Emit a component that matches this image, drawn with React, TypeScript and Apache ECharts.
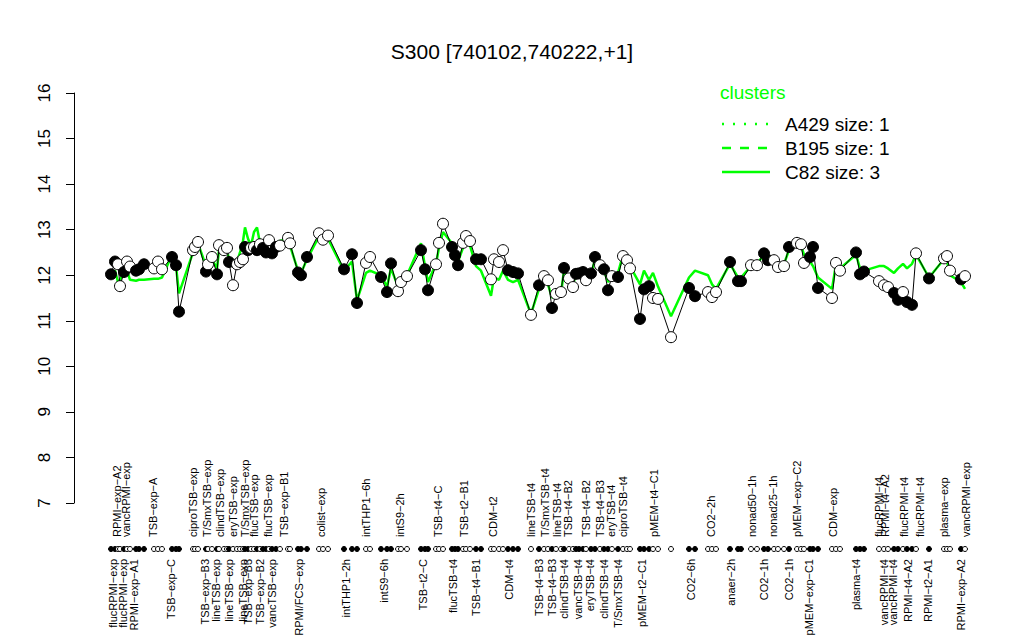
import React, { useEffect, useRef } from "react";
import * as echarts from "echarts";

// sample positions along the condition axis
const pos = [
  7.4, 8.2, 8.8, 9.2, 10, 10.6, 11.2, 12.4, 13, 14,
  16, 16.8, 17.6,
  19.6, 20.4, 21,
  23.8, 24.2, 24.8,
  26.4, 26.8, 27.6, 28.6, 29, 30, 30.6, 31, 31.8, 32.6, 33.2, 33.8, 34.2, 34.8, 35.4, 36, 36.6, 37.2, 37.8, 38.4, 39, 39.6, 40.4, 41.2, 42.8, 43.2,
  44.8, 45.4, 46.6,
  49, 49.8, 50.8,
  54, 55.6, 56.6,
  58.4, 59.2,
  61.4, 62.6, 63.4,
  64.8, 65.4, 66.6,
  69.4, 70.2, 70.8,
  72.4, 73, 73.8,
  75.6, 76.2, 76.8,
  77.8, 78.4, 79.2,
  80.4, 81.4,
  83.4, 84, 85, 85.8,
  86.8, 87.8, 88.8,
  91.4,
  93, 94, 94.8, 95.6, 96.4, 97.4, 98, 99, 99.8, 100.4, 101, 101.8, 102.4, 103.4, 104.2, 105.2, 106, 106.8, 107.6, 108.8, 109.8, 110.6, 111.2,
  113.2, 114, 115,
  115.8, 116.8,
  119.4,
  123, 124.2,
  126.8, 127.6, 128.4,
  131.2, 132.8, 133.4,
  135.4, 136.6,
  138, 138.8,
  140, 140.8, 142,
  143,
  144.6, 145.4, 146,
  147.2, 147.8, 148.8,
  151.6, 152.4, 153.2,
  156.4, 157.2, 158,
  161, 162, 162.8, 164, 164.8, 165.8, 166.6, 167.6, 168.4,
  171,
  174, 174.6, 175.2,
  177.4, 178.2,
];

// expression of S300 for each sample
const values = [
  12.02, 12.3, 12.24, 11.76, 12.07, 12.3, 12.19, 12.1, 12.13, 12.24,
  12.15, 12.3, 12.13,
  12.4, 12.22, 11.2,
  12.55, 12.62, 12.73,
  12.08, 12.24, 12.4, 12.02, 12.66, 12.55, 12.6, 12.29, 11.78, 12.24, 12.29, 12.35, 12.62, 12.55, 12.6, 12.62, 12.55, 12.68, 12.6, 12.5, 12.77, 12.48, 12.62, 12.65, 12.82, 12.7,
  12.06, 12.0, 12.4,
  12.92, 12.78, 12.87,
  12.13, 12.46, 11.39,
  12.27, 12.4,
  11.96, 11.63, 12.26,
  11.65, 11.85, 11.98,
  12.55, 12.13, 11.67,
  12.24, 12.71, 13.13,
  12.62, 12.44, 12.22,
  12.71, 12.86, 12.75,
  12.35, 12.35,
  11.91, 12.35, 12.29, 12.55,
  12.11, 12.07, 12.04,
  11.13,
  11.78, 11.98, 11.89, 11.28, 11.59, 11.63, 12.16, 11.93, 11.74, 12.03, 12.04, 12.07, 11.89, 12.04, 12.4, 12.22, 12.13, 11.67, 11.98, 11.96, 12.42, 12.33, 12.15,
  11.04, 11.69, 11.76,
  11.5, 11.48,
  10.64,
  11.72, 11.54,
  11.63, 11.52, 11.63,
  12.29, 11.87, 11.87,
  12.22, 12.22,
  12.48, 12.33,
  12.33, 12.18, 12.2,
  12.62,
  12.71, 12.68, 12.27,
  12.4, 12.62, 11.72,
  11.5, 12.27, 12.1,
  12.5, 12.02, 12.08,
  11.87, 11.78, 11.74, 11.61, 11.46, 11.63, 11.41, 11.35, 12.48,
  11.93,
  12.37, 12.42, 12.1,
  11.91, 11.98,
];

// C82 cluster profile
const cluster = [
  12.0, 12.1, 11.85, 11.9, 12.05, 12.1, 11.9, 11.88, 11.9, 11.9,
  11.92, 11.92, 11.95,
  12.45, 12.2, 11.6,
  12.5, 12.6, 12.7,
  12.2, 12.25, 12.35, 12.15, 12.55, 12.5, 12.55, 12.35, 12.2, 12.3, 12.5, 12.75, 13.05, 12.8, 12.65, 12.95, 13.05, 12.7, 12.65, 12.6, 12.85, 12.6, 12.7, 12.75, 12.8, 12.65,
  12.1, 12.05, 12.35,
  12.85, 12.9, 12.8,
  12.1, 12.3, 11.45,
  12.05, 12.1,
  12.0, 11.75, 12.15,
  11.75, 11.9, 12.0,
  12.7, 12.2, 11.85,
  12.25, 12.6, 12.95,
  12.7, 12.5, 12.3,
  12.6, 12.7, 12.65,
  12.2, 12.1,
  11.55, 11.95, 11.9, 12.1,
  11.9, 11.85, 11.9,
  11.15,
  11.7, 11.85, 11.8, 11.5, 11.6, 11.6, 12.1, 11.9, 11.8, 12.0, 12.05, 12.0, 11.9, 12.0, 12.35, 12.2, 12.1, 11.85, 12.0, 12.05, 12.45, 12.4, 12.2,
  11.8, 12.1, 11.9,
  12.05, 11.75,
  11.1,
  11.95, 12.1,
  12.0, 11.8, 11.7,
  12.25, 11.95, 11.95,
  12.2, 12.25,
  12.45, 12.3,
  12.3, 12.2, 12.25,
  12.55,
  12.7, 12.65, 12.45,
  12.3, 12.2, 11.95,
  11.7, 12.25, 12.15,
  12.45, 12.15, 12.1,
  12.2, 12.2, 12.15, 12.05, 12.15, 12.25, 12.15, 12.25, 12.45,
  11.95,
  12.35, 12.3, 12.0,
  11.85, 11.7,
];

// 1 = filled marker, 0 = open marker
const filled = [
  1, 1, 0, 0, 1, 0, 0, 1, 1, 1,
  0, 0, 0,
  1, 1, 1,
  0, 0, 0,
  1, 0, 0, 1, 0, 0, 0, 1, 0, 0, 0, 0, 1, 1, 0, 0, 1, 0, 1, 1, 0, 1, 1, 0, 0, 0,
  1, 1, 1,
  0, 0, 0,
  1, 1, 1,
  0, 0,
  1, 1, 1,
  0, 0, 0,
  1, 1, 1,
  0, 0, 0,
  1, 1, 1,
  0, 0, 0,
  1, 1,
  0, 0, 0, 0,
  1, 1, 1,
  0,
  1, 0, 0, 1, 0, 0, 1, 0, 0, 1, 1, 1, 0, 1, 1, 0, 1, 1, 0, 1, 0, 0, 0,
  1, 1, 1,
  0, 0,
  0,
  1, 1,
  0, 0, 0,
  1, 1, 1,
  0, 0,
  1, 1,
  0, 0, 0,
  1,
  0, 0, 0,
  1, 1, 1,
  0, 0, 0,
  1, 1, 1,
  0, 0, 0, 1, 1, 0, 1, 1, 0,
  1,
  0, 0, 0,
  1, 0,
];

const yTicks = [7, 8, 9, 10, 11, 12, 13, 14, 15, 16];

const topLabels = [
  "RPMI\u2212exp\u2212A2", "vancRPMI\u2212exp", "TSB\u2212exp\u2212A", "ciproTSB\u2212exp", "T/SmxTSB\u2212exp",
  "clindTSB\u2212exp", "eryTSB\u2212exp", "T/SmxTSB\u2212exp", "flucTSB\u2212exp", "flucTSB\u2212exp",
  "TSB\u2212exp\u2212B1", "colist\u2212exp", "intTHP1\u22126h", "intS9\u22122h", "TSB\u2212t4\u2212C",
  "TSB\u2212t2\u2212B1", "CDM\u2212t2", "lineTSB\u2212t4", "T/SmxTSB\u2212t4", "lineTSB\u2212t4",
  "TSB\u2212t4\u2212B2", "TSB\u2212t4\u2212B2", "TSB\u2212t4\u2212B3", "eryTSB\u2212t4", "ciproTSB\u2212t4",
  "pMEM\u2212t4\u2212C1", "CO2\u22122h", "nonad50\u22121h", "nonad25\u22121h", "pMEM\u2212exp\u2212C2",
  "CDM\u2212exp", "flucRPMI\u2212t4", "RPMI\u2212t4\u2212A2", "flucRPMI\u2212t4", "flucRPMI\u2212t4",
  "plasma\u2212exp", "vancRPMI\u2212exp",
];
const topPos = [
  8.6, 10.4, 15.8, 23.8, 26.6,
  29.2, 31.8, 34.2, 36, 38.8,
  42, 49.4, 58.4, 65.2, 72.8,
  78, 83.8, 91.4, 94.2, 96.6,
  98.8, 102.4, 105.2, 107.4, 109.8,
  116, 127.4, 135.6, 139.8, 144.6,
  151.8, 161, 162.2, 166, 169.2,
  174, 178.4,
];

const bottomLabels = [
  "flucRPMI\u2212exp", "flucRPMI\u2212exp", "RPMI\u2212exp\u2212A1", "TSB\u2212exp\u2212C", "TSB\u2212exp\u2212B3",
  "lineTSB\u2212exp", "lineTSB\u2212exp", "lineTSB\u2212exp", "TSB\u2212exp\u2212B3", "TSB\u2212exp\u2212B2",
  "vancTSB\u2212exp", "RPMI/FCS\u2212exp", "intTHP1\u22122h", "intS9\u22126h", "TSB\u2212t2\u2212C",
  "flucTSB\u2212t4", "TSB\u2212t4\u2212B1", "CDM\u2212t4", "TSB\u2212t4\u2212B3", "TSB\u2212t4\u2212B3",
  "clindTSB\u2212t4", "vancTSB\u2212t4", "eryTSB\u2212t4", "clindTSB\u2212t4", "T/SmxTSB\u2212t4",
  "pMEM\u2212t2\u2212C1", "CO2\u22126h", "anaer\u22122h", "CO2\u22121h", "CO2\u22121h",
  "pMEM\u2212exp\u2212C1", "plasma\u2212t4", "vancRPMI\u2212t4", "vancRPMI\u2212t4", "RPMI\u2212t4\u2212A2",
  "RPMI\u2212t2\u2212A1", "RPMI\u2212exp\u2212A2",
];
const bottomPos = [
  7.8, 9.8, 12, 19.4, 26.2,
  28.4, 31, 33.8, 34.8, 37.2,
  39.6, 45, 54.4, 62, 69.8,
  75.8, 80.4, 87, 93, 95.6,
  98, 100.8, 103.2, 106, 108.8,
  113.6, 123.4, 131.4, 138, 143,
  147, 156.4, 162, 163.8, 166.8,
  170.8, 177.4,
];

const legendTitle = "clusters";
const legendNames = ["A429 size: 1", "B195 size: 1", "C82 size: 3"];
const titleText = "S300 [740102,740222,+1]";

const FONT = "'Liberation Sans', Arial, Helvetica, sans-serif";
const GREEN = "#00ff00";

export default function App() {
  const ref = useRef<HTMLDivElement>(null);

  useEffect(() => {
    if (!ref.current) return;
    const chart = echarts.init(ref.current, null, { renderer: "svg" });

    const markerStyle = (i: number) => ({
      color: filled[i] ? "#000" : "#fff",
      borderColor: "#000",
      borderWidth: 1,
      opacity: 1,
    });

    const option: any = {
      animation: false,
      backgroundColor: "#fff",
      title: {
        text: titleText,
        left: "center",
        top: 36,
        textStyle: { fontSize: 21, fontWeight: "normal", fontFamily: FONT, color: "#000" },
      },
      grid: [
        { left: 74, top: 93, width: 950, height: 410 },
        { left: 74, top: 541, width: 950, height: 16 },
      ],
      xAxis: [
        { type: "value", gridIndex: 0, min: 0, max: 190, show: false },
        { type: "value", gridIndex: 1, min: 0, max: 190, show: false },
      ],
      yAxis: [
        {
          type: "value",
          gridIndex: 0,
          min: 7,
          max: 16,
          interval: 1,
          axisLine: { show: true, lineStyle: { color: "#000", width: 1 } },
          axisTick: { show: true, length: 8, lineStyle: { color: "#000", width: 1 } },
          splitLine: { show: false },
          axisLabel: { show: false },
        },
        { type: "value", gridIndex: 1, min: -1, max: 1, show: false },
      ],
      series: [
        {
          type: "line",
          xAxisIndex: 0,
          yAxisIndex: 0,
          data: pos.map((p, i) => [p, cluster[i]]),
          symbol: "none",
          lineStyle: { color: GREEN, width: 2.5 },
          z: 1,
        },
        {
          type: "line",
          xAxisIndex: 0,
          yAxisIndex: 0,
          data: pos.map((p, i) => [p, values[i]]),
          symbol: "none",
          lineStyle: { color: "#000", width: 1 },
          z: 2,
        },
        {
          type: "scatter",
          xAxisIndex: 0,
          yAxisIndex: 0,
          symbolSize: 11,
          data: pos.map((p, i) => ({ value: [p, values[i]], itemStyle: markerStyle(i) })),
          z: 3,
        },
        {
          type: "scatter",
          xAxisIndex: 1,
          yAxisIndex: 1,
          symbolSize: 5,
          data: pos.map((p, i) => ({ value: [p, 0], itemStyle: markerStyle(i) })),
          z: 3,
        },
      ],
    };
    chart.setOption(option);

    const graphics: any[] = [];
    yTicks.forEach((t) => {
      const y = chart.convertToPixel({ yAxisIndex: 0 }, t) as number;
      graphics.push({
        type: "text",
        x: 44,
        y,
        rotation: Math.PI / 2,
        style: {
          text: String(t),
          fontSize: 17,
          fontFamily: FONT,
          fill: "#000",
          align: "center",
          verticalAlign: "middle",
          textAlign: "center",
          textVerticalAlign: "middle",
        },
      });
    });
    topLabels.forEach((name, i) => {
      const x = chart.convertToPixel({ xAxisIndex: 0 }, topPos[i]) as number;
      graphics.push({
        type: "text",
        x,
        y: 537,
        rotation: Math.PI / 2,
        style: {
          text: name,
          fontSize: 11,
          fontFamily: FONT,
          fill: "#000",
          align: "left",
          verticalAlign: "middle",
          textAlign: "left",
          textVerticalAlign: "middle",
        },
      });
    });
    bottomLabels.forEach((name, i) => {
      const x = chart.convertToPixel({ xAxisIndex: 0 }, bottomPos[i]) as number;
      graphics.push({
        type: "text",
        x,
        y: 559,
        rotation: Math.PI / 2,
        style: {
          text: name,
          fontSize: 11,
          fontFamily: FONT,
          fill: "#000",
          align: "right",
          verticalAlign: "middle",
          textAlign: "right",
          textVerticalAlign: "middle",
        },
      });
    });

    // legend
    graphics.push({
      type: "text",
      x: 720,
      y: 92,
      style: {
        text: legendTitle, fontSize: 19, fontFamily: FONT, fill: GREEN,
        align: "left", verticalAlign: "middle", textAlign: "left", textVerticalAlign: "middle",
      },
    });
    const dashes = [[2, 9], [9, 9], null];
    legendNames.forEach((name, i) => {
      const y = 124 + i * 24;
      graphics.push({
        type: "line",
        shape: { x1: 722, y1: y, x2: 770, y2: y },
        style: { stroke: GREEN, lineWidth: 2.5, lineDash: dashes[i] || undefined },
      });
      graphics.push({
        type: "text",
        x: 785,
        y,
        style: {
          text: name, fontSize: 19, fontFamily: FONT, fill: "#000",
          align: "left", verticalAlign: "middle", textAlign: "left", textVerticalAlign: "middle",
        },
      });
    });

    chart.setOption({ graphic: graphics });

    return () => chart.dispose();
  }, []);

  return (
    <div
      ref={ref}
      style={{ position: "fixed", left: 0, top: 0, width: 1024, height: 640, background: "#fff" }}
    />
  );
}
